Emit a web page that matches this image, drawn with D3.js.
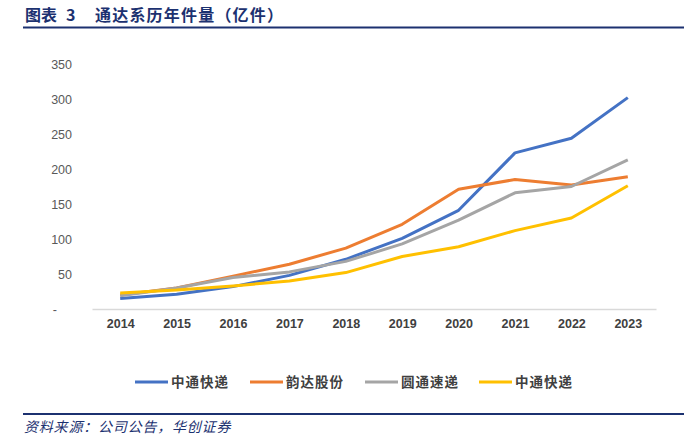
<!DOCTYPE html>
<html><head><meta charset="utf-8">
<script src="https://cdn.jsdelivr.net/npm/d3@7"></script>
<style>body{margin:0;background:#fff}</style>
</head><body>
<svg id="c" width="700" height="444"></svg>
<script>
const years = ["2014","2015","2016","2017","2018","2019","2020","2021","2022","2023"];
const seriesNames = ["中通快递","韵达股份","圆通速递","中通快递"];
const seriesColors = ["#4472C4","#ED7D31","#A5A5A5","#FFC000"];
const zto = [15, 21, 32, 48, 71, 101, 141, 223, 244, 302];
const yunda = [20, 30, 47, 64, 87, 121, 171, 185, 177, 189];
const yto = [19, 30, 45, 53, 68, 93, 127, 166, 175, 213];
const sto = [23, 27, 33, 40, 52, 75, 89, 112, 130, 176];
const yTicks = [0,50,100,150,200,250,300,350];
const series = [zto, yunda, yto, sto];

const svg = d3.select("#c");
const x = d3.scalePoint().domain(years).range([92,656]).padding(0.5);
const y = d3.scaleLinear().domain([0,350]).range([309,64]);

// header
const t = svg.append("text").attr("y",21)
  .attr("font-family","'Noto Sans CJK SC'").attr("font-weight","bold")
  .attr("font-size",16).attr("fill","#1c3170");
t.append("tspan").attr("x",25).text("图表");
t.append("tspan").attr("x",66).text("3");
t.append("tspan").attr("x",95).attr("letter-spacing",1.2).text("通达系历年件量（亿件）");
svg.append("line").attr("x1",23).attr("x2",684).attr("y1",27.5).attr("y2",27.5)
  .attr("stroke","#1c3170").attr("stroke-width",2);
svg.append("line").attr("x1",23).attr("x2",684).attr("y1",414).attr("y2",414)
  .attr("stroke","#1c3170").attr("stroke-width",2);
svg.append("text").attr("x",24).attr("y",432)
  .attr("font-family","'Noto Sans CJK SC'").attr("font-style","italic")
  .attr("font-size",14).attr("letter-spacing",0.8).attr("fill","#1c3170")
  .text("资料来源：公司公告，华创证券");

// y axis
const yAxis = d3.axisLeft(y).tickValues(yTicks).tickSize(0).tickPadding(0)
  .tickFormat(d => d===0 ? "-" : d);
const ya = svg.append("g").attr("transform","translate(72,0)").call(yAxis);
ya.select(".domain").remove();
ya.selectAll("text").attr("font-family","'Liberation Sans', Arial").attr("font-size",12.5)
  .attr("fill","#595959").attr("dy","0.35em");
ya.selectAll(".tick").filter(d=>d===0).select("text").attr("x",-15);

// x axis
const xAxis = d3.axisBottom(x).tickSize(0).tickPadding(10);
const xa = svg.append("g").attr("transform","translate(0,309)").call(xAxis);
xa.select(".domain").attr("stroke","#d9d9d9").attr("stroke-width",1.3);
xa.selectAll("text").attr("font-family","'Liberation Sans', Arial").attr("font-size",12.5)
  .attr("font-weight","bold").attr("fill","#404040");

// lines
const line = d3.line().x((d,i)=>x(years[i])).y(d=>y(d));
series.forEach((s,i)=>{
  svg.append("path").datum(s).attr("d",line).attr("fill","none")
    .attr("stroke",seriesColors[i]).attr("stroke-width",3).attr("stroke-linejoin","round");
});

// legend
const legX = [135,250,365,479];
seriesNames.forEach((n,i)=>{
  svg.append("line").attr("x1",legX[i]).attr("x2",legX[i]+33).attr("y1",382).attr("y2",382)
    .attr("stroke",seriesColors[i]).attr("stroke-width",3);
  svg.append("text").attr("x",legX[i]+36).attr("y",382).attr("dy","0.35em")
    .attr("font-family","'Noto Sans CJK SC'").attr("font-weight","bold")
    .attr("font-size",13.5).attr("letter-spacing",1).attr("fill","#404040").text(n);
});
</script>
</body></html>
